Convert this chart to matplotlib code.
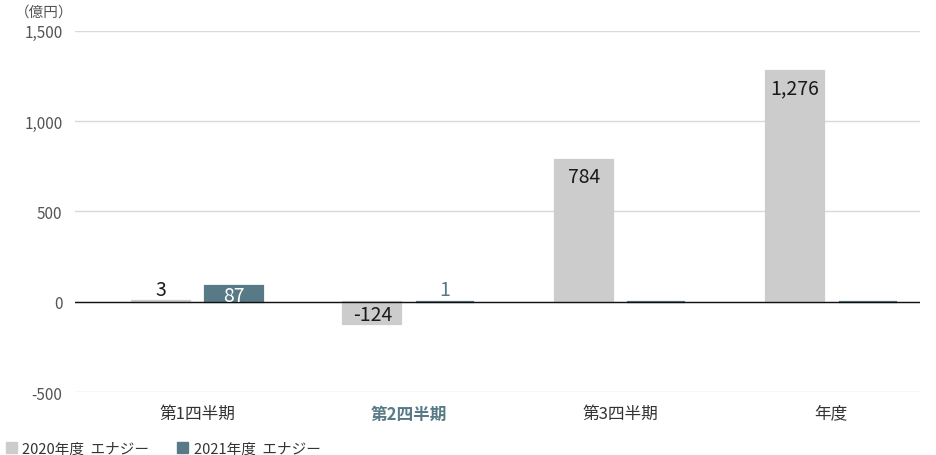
import matplotlib
matplotlib.use("Agg")
import matplotlib.pyplot as plt
import numpy as np
from matplotlib.patches import Rectangle

plt.rcParams["font.family"] = ["Noto Sans CJK JP", "DejaVu Sans"]

categories = ["第1四半期", "第2四半期", "第3四半期", "年度"]
series_names = ["2020年度  エナジー", "2021年度  エナジー"]
values_2020 = [3, -124, 784, 1276]
values_2021 = [87, 1, 0, 0]
y_ticks = [-500, 0, 500, 1000, 1500]
highlight = 1  # 第2四半期

gray = "#cccccc"
teal = "#587a87"
text_dark = "#1a1a1a"
tick_gray = "#555555"

fig = plt.figure(figsize=(9.36, 4.56), dpi=100)
ax = fig.add_axes([0.080, 0.138, 0.903, 0.792])

x = np.arange(len(categories))
width = 0.275
offset = 0.172

series = [
    (values_2020, gray, text_dark, text_dark, -offset),
    (values_2021, teal, teal, "white", offset),
]

for vals, color, small_col, inner_col, dx in series:
    bars = ax.bar(x + dx, vals, width, color=color, edgecolor=color,
                  linewidth=1.6, zorder=2)
    for b, v in zip(bars, vals):
        if v == 0:
            continue
        cx = b.get_x() + b.get_width() / 2
        if abs(v) < 50:
            ax.annotate(str(v), (cx, v), xytext=(0, 1),
                        textcoords="offset points", ha="center", va="bottom",
                        fontsize=14, color=small_col, zorder=4)
        elif abs(v) < 200:
            ax.annotate(f"{v:,}", (cx, v / 2), xytext=(0, -1),
                        textcoords="offset points", ha="center", va="center",
                        fontsize=14, color=inner_col, zorder=4)
        else:
            ax.annotate(f"{v:,}", (cx, v), xytext=(0, -4),
                        textcoords="offset points", ha="center",
                        va="top", fontsize=14, color=inner_col, zorder=4)

ax.set_ylim(-500, 1500)
ax.set_xlim(-0.58, 3.42)
ax.set_yticks(y_ticks)
ax.set_yticklabels([f"{t:,}" for t in y_ticks], color=tick_gray, fontsize=11)
ax.yaxis.grid(True, color="#d9d9d9", linewidth=1, zorder=0)
ax.axhline(0, color="#111111", linewidth=1.0, zorder=3)
ax.set_xticks(x)
ax.set_xticklabels(categories, fontsize=12, color="#333333")
for i, lab in enumerate(ax.get_xticklabels()):
    if i == highlight:
        lab.set_color(teal)
        lab.set_fontweight("bold")
ax.tick_params(axis="both", length=0)
ax.tick_params(axis="y", pad=9)
ax.tick_params(axis="x", pad=9)
for s in ax.spines.values():
    s.set_visible(False)

fig.text(0.016, 0.973, "（億円）", fontsize=10.5, color=tick_gray,
         ha="left", va="center")

# legend along the bottom edge
handles = [Rectangle((0, 0), 1, 1, color=gray), Rectangle((0, 0), 1, 1, color=teal)]
fig.legend(handles, series_names, loc="lower left", bbox_to_anchor=(-0.008, -0.030),
           ncol=2, frameon=False, fontsize=10.5, handlelength=0.75, handleheight=0.75,
           handletextpad=0.4, columnspacing=1.9, labelcolor="#333333")

fig.savefig("out.png", dpi=100)
